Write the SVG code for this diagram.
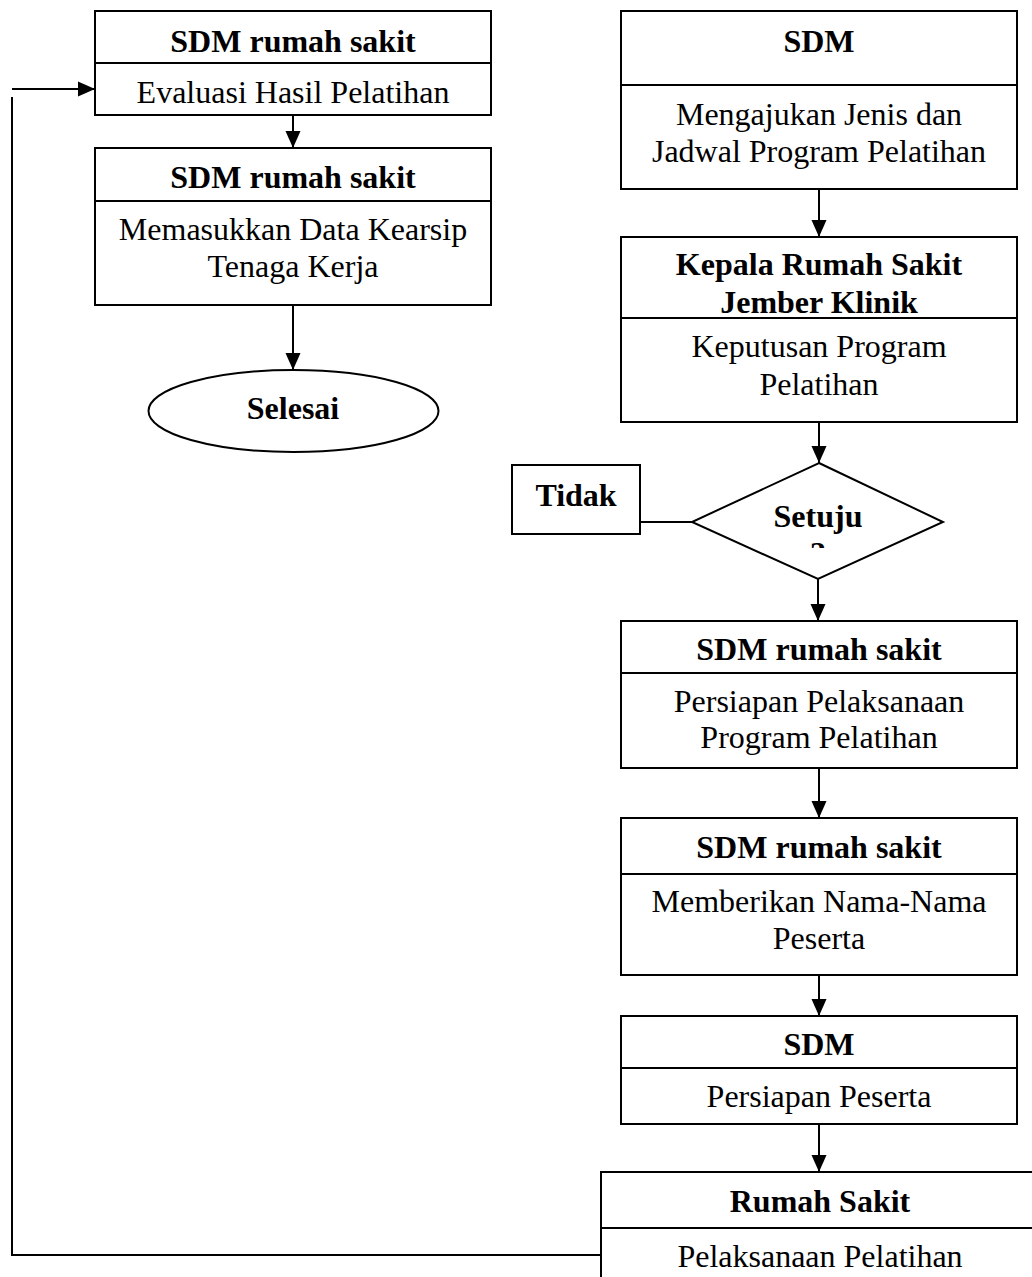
<svg xmlns="http://www.w3.org/2000/svg" width="1032" height="1277" viewBox="0 0 1032 1277">
<defs>
<style>
.box{fill:none;stroke:#000;stroke-width:2}
.ln{fill:none;stroke:#000;stroke-width:2}
.b{font-family:"Liberation Serif","Times New Roman",serif;font-size:32px;font-weight:bold;text-anchor:middle;fill:#000}
.r{font-family:"Liberation Serif","Times New Roman",serif;font-size:32px;text-anchor:middle;fill:#000}
</style>
<marker id="ah" markerUnits="userSpaceOnUse" markerWidth="18" markerHeight="18" viewBox="0 0 18 18" refX="17" refY="9" orient="auto">
<path d="M0,1.5 L17,9 L0,16.5 Z" fill="#000"/>
</marker>
<clipPath id="qclip"><rect x="700" y="460" width="240" height="88"/></clipPath>
</defs>
<rect width="1032" height="1277" fill="#fff"/>

<g id="connectors">
<line class="ln" x1="293" y1="115" x2="293" y2="148" marker-end="url(#ah)"/>
<line class="ln" x1="293" y1="305" x2="293" y2="370" marker-end="url(#ah)"/>
<line class="ln" x1="819" y1="189" x2="819" y2="237" marker-end="url(#ah)"/>
<line class="ln" x1="819" y1="422" x2="819" y2="463" marker-end="url(#ah)"/>
<line class="ln" x1="818" y1="579" x2="818" y2="621" marker-end="url(#ah)"/>
<line class="ln" x1="819" y1="768" x2="819" y2="818" marker-end="url(#ah)"/>
<line class="ln" x1="819" y1="975" x2="819" y2="1016" marker-end="url(#ah)"/>
<line class="ln" x1="819" y1="1124" x2="819" y2="1172" marker-end="url(#ah)"/>
<line class="ln" x1="640" y1="522" x2="692" y2="522"/>
<polyline class="ln" points="601,1255 12,1255 12,97"/>
<line class="ln" x1="12" y1="89" x2="95" y2="89" marker-end="url(#ah)"/>
</g>

<g id="evaluasi">
<rect class="box" x="95" y="11" width="396" height="104"/>
<line class="ln" x1="95" y1="63" x2="491" y2="63"/>
<text class="b" x="293" y="52">SDM rumah sakit</text>
<text class="r" x="293" y="103">Evaluasi Hasil Pelatihan</text>
</g>

<g id="memasukkan">
<rect class="box" x="95" y="148" width="396" height="157"/>
<line class="ln" x1="95" y1="201" x2="491" y2="201"/>
<text class="b" x="293" y="188">SDM rumah sakit</text>
<text class="r" x="293" y="240">Memasukkan Data Kearsip</text>
<text class="r" x="293" y="277">Tenaga Kerja</text>
</g>

<g id="selesai">
<ellipse class="box" cx="293.5" cy="411" rx="145" ry="41"/>
<text class="b" x="293" y="419">Selesai</text>
</g>

<g id="mengajukan">
<rect class="box" x="621" y="11" width="396" height="178"/>
<line class="ln" x1="621" y1="85" x2="1017" y2="85"/>
<text class="b" x="819" y="52">SDM</text>
<text class="r" x="819" y="125">Mengajukan Jenis dan</text>
<text class="r" x="819" y="162">Jadwal Program Pelatihan</text>
</g>

<g id="keputusan">
<rect class="box" x="621" y="237" width="396" height="185"/>
<line class="ln" x1="621" y1="318" x2="1017" y2="318"/>
<text class="b" x="819" y="275">Kepala Rumah Sakit</text>
<text class="b" x="819" y="313">Jember Klinik</text>
<text class="r" x="819" y="357">Keputusan Program</text>
<text class="r" x="819" y="395">Pelatihan</text>
</g>

<g id="setuju">
<polygon class="box" points="819,463 943,522 818,579 692,522"/>
<text class="b" x="818" y="527">Setuju</text>
<text class="b" x="818" y="564" clip-path="url(#qclip)">?</text>
</g>

<g id="tidak">
<rect class="box" x="512" y="465" width="128" height="69"/>
<text class="b" x="576" y="506">Tidak</text>
</g>

<g id="persiapan-pelaksanaan">
<rect class="box" x="621" y="621" width="396" height="147"/>
<line class="ln" x1="621" y1="673" x2="1017" y2="673"/>
<text class="b" x="819" y="660">SDM rumah sakit</text>
<text class="r" x="819" y="712">Persiapan Pelaksanaan</text>
<text class="r" x="819" y="748">Program Pelatihan</text>
</g>

<g id="nama-peserta">
<rect class="box" x="621" y="818" width="396" height="157"/>
<line class="ln" x1="621" y1="874" x2="1017" y2="874"/>
<text class="b" x="819" y="858">SDM rumah sakit</text>
<text class="r" x="819" y="912">Memberikan Nama-Nama</text>
<text class="r" x="819" y="949">Peserta</text>
</g>

<g id="persiapan-peserta">
<rect class="box" x="621" y="1016" width="396" height="108"/>
<line class="ln" x1="621" y1="1068" x2="1017" y2="1068"/>
<text class="b" x="819" y="1055">SDM</text>
<text class="r" x="819" y="1107">Persiapan Peserta</text>
</g>

<g id="pelaksanaan">
<rect class="box" x="601" y="1172" width="460" height="150"/>
<line class="ln" x1="601" y1="1228" x2="1061" y2="1228"/>
<text class="b" x="820" y="1212">Rumah Sakit</text>
<text class="r" x="820" y="1267">Pelaksanaan Pelatihan</text>
</g>
</svg>
